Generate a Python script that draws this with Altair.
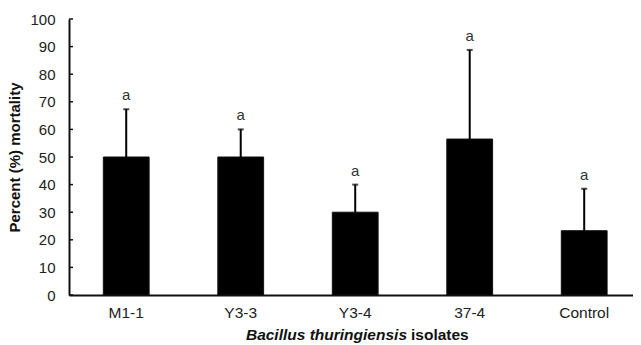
import altair as alt
import pandas as pd

isolates = ["M1-1", "Y3-3", "Y3-4", "37-4", "Control"]
mortality = [50, 50, 30, 56.5, 23.3]
upper_err = [67.3, 60, 40, 88.8, 38.5]
letters = ["a", "a", "a", "a", "a"]
y_ticks = [0, 10, 20, 30, 40, 50, 60, 70, 80, 90, 100]

df = pd.DataFrame({"isolate": isolates, "mortality": mortality,
                   "upper": upper_err, "letter": letters})
ticks_df = pd.DataFrame({"v": y_ticks})

FONT = "Liberation Sans"
W, H = 564, 276

x_scale = alt.Scale(domain=isolates, paddingInner=0.6, paddingOuter=0.263, align=0.57)
y_scale = alt.Scale(domain=[0, 100], nice=False)

x_axis = alt.Axis(title=None, ticks=False, labelAngle=0, labelFontSize=15.5,
                  labelColor="#222", labelPadding=10, labelFont=FONT,
                  domainColor="#111", domainWidth=2, grid=False)
y_axis = alt.Axis(title="Percent (%) mortality", values=y_ticks, ticks=False,
                  grid=False, labelFontSize=15, labelColor="#222",
                  labelPadding=14, labelFont=FONT, titleFont=FONT,
                  labelOverlap=False,
                  titleFontSize=15, titleFontWeight="bold", titleColor="#111",
                  titlePadding=7, domainColor="#111", domainWidth=2)

x_enc = alt.X("isolate:N", sort=isolates, scale=x_scale, axis=x_axis)


def yq(field):
    return alt.Y(field, scale=y_scale, axis=y_axis, title="Percent (%) mortality")


bars = alt.Chart(df).mark_bar(color="black", stroke="#111", strokeWidth=1).encode(
    x=x_enc, y=yq("mortality:Q"))

err = alt.Chart(df).mark_rule(color="black", strokeWidth=2).encode(
    x=x_enc, y=yq("mortality:Q"), y2="upper:Q")

caps = alt.Chart(df).mark_tick(color="black", thickness=2, size=6).encode(
    x=x_enc, y=yq("upper:Q"))

labels = alt.Chart(df).mark_text(font=FONT, fontSize=15, color="#333",
                                 baseline="bottom", dy=-6).encode(
    x=x_enc, y=yq("upper:Q"), text="letter:N")

yticks = alt.Chart(ticks_df).mark_rule(color="#111", strokeWidth=1.5).encode(
    y=yq("v:Q"), x=alt.value(0), x2=alt.value(4))

title_it = alt.Chart(pd.DataFrame({"t": ["Bacillus thuringiensis"]})).mark_text(
    font=FONT, fontSize=15.5, fontWeight="bold", fontStyle="italic", color="#111",
    align="right", baseline="middle").encode(
    text="t:N", x=alt.value(338), y=alt.value(H + 40))
title_rest = alt.Chart(pd.DataFrame({"t": ["isolates"]})).mark_text(
    font=FONT, fontSize=15.5, fontWeight="bold", color="#111",
    align="left", baseline="middle").encode(
    text="t:N", x=alt.value(342), y=alt.value(H + 40))

chart = alt.layer(bars, err, caps, labels, yticks, title_it, title_rest).properties(
    width=W, height=H, background="white",
    autosize=alt.AutoSizeParams(type="none"),
    padding={"left": 61, "top": 11, "right": 0, "bottom": 48},
).configure_view(stroke=None).configure_axis(grid=False)

chart.save("out.html", embed_options={"renderer": "svg", "actions": False})
